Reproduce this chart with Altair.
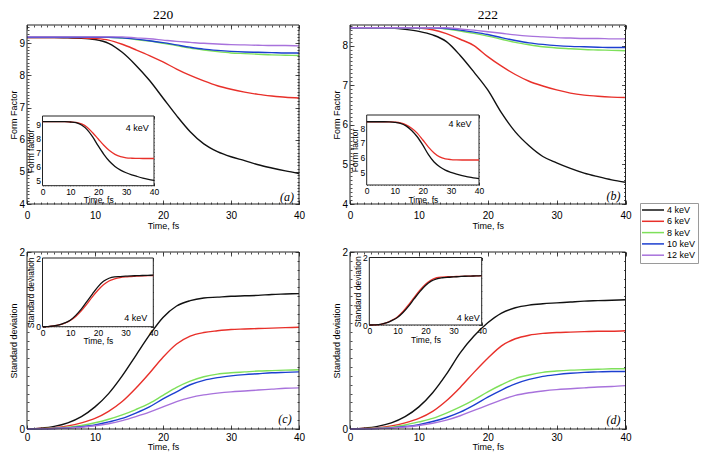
import altair as alt
import pandas as pd

# ---------------- data ----------------
T = [0, 2, 4, 6, 8, 10, 12, 14, 16, 18, 20, 22, 24, 26, 28, 30, 32, 34, 36, 38, 40]
ENERGIES = ["4 keV", "6 keV", "8 keV", "10 keV", "12 keV"]
COLORS = ["#111111", "#e8302a", "#7ee05a", "#1c3fd0", "#a872dc"]
INSET_COLORS = ["#e8302a", "#111111"]

# (a) 220 form factor
A4 = [9.18, 9.18, 9.18, 9.17, 9.16, 9.12, 9.00, 8.72, 8.32, 7.85, 7.30, 6.75, 6.25, 5.87, 5.63, 5.47, 5.35, 5.22, 5.12, 5.03, 4.95]
A6 = [9.18, 9.18, 9.18, 9.18, 9.17, 9.15, 9.10, 8.97, 8.80, 8.62, 8.42, 8.20, 8.00, 7.83, 7.68, 7.57, 7.48, 7.41, 7.36, 7.32, 7.30]
A8 = [9.19, 9.19, 9.19, 9.19, 9.19, 9.19, 9.19, 9.16, 9.12, 9.07, 9.00, 8.93, 8.85, 8.79, 8.74, 8.70, 8.68, 8.66, 8.64, 8.63, 8.62]
A10 = [9.19, 9.19, 9.19, 9.19, 9.19, 9.19, 9.19, 9.17, 9.13, 9.08, 9.02, 8.95, 8.88, 8.82, 8.78, 8.75, 8.73, 8.72, 8.71, 8.70, 8.70]
A12 = [9.20, 9.20, 9.20, 9.20, 9.20, 9.20, 9.20, 9.20, 9.17, 9.14, 9.10, 9.06, 9.03, 9.00, 8.98, 8.96, 8.95, 8.94, 8.93, 8.93, 8.92]
IA_RED = [9.20, 9.20, 9.20, 9.20, 9.20, 9.17, 9.14, 9.03, 8.80, 8.40, 7.95, 7.50, 7.12, 6.85, 6.68, 6.60, 6.57, 6.56, 6.55, 6.55, 6.55]
IA_BLACK = [9.20, 9.20, 9.20, 9.20, 9.20, 9.17, 9.12, 8.95, 8.62, 8.10, 7.45, 6.85, 6.35, 5.98, 5.72, 5.53, 5.38, 5.26, 5.15, 5.06, 4.98]

# (b) 222 form factor
B4 = [8.45, 8.45, 8.45, 8.44, 8.41, 8.36, 8.27, 8.10, 7.75, 7.33, 6.88, 6.30, 5.82, 5.47, 5.20, 5.04, 4.90, 4.78, 4.69, 4.61, 4.55]
B6 = [8.45, 8.45, 8.45, 8.45, 8.45, 8.44, 8.40, 8.30, 8.16, 8.00, 7.72, 7.48, 7.27, 7.10, 6.98, 6.88, 6.80, 6.75, 6.72, 6.70, 6.69]
B8 = [8.45, 8.45, 8.45, 8.45, 8.45, 8.45, 8.45, 8.42, 8.37, 8.31, 8.24, 8.16, 8.08, 8.02, 7.97, 7.94, 7.92, 7.90, 7.89, 7.88, 7.87]
B10 = [8.45, 8.45, 8.45, 8.45, 8.45, 8.45, 8.45, 8.43, 8.39, 8.34, 8.28, 8.20, 8.13, 8.07, 8.03, 8.00, 7.98, 7.97, 7.96, 7.95, 7.95]
B12 = [8.45, 8.45, 8.45, 8.45, 8.45, 8.45, 8.45, 8.45, 8.42, 8.39, 8.35, 8.31, 8.27, 8.24, 8.22, 8.20, 8.19, 8.18, 8.18, 8.17, 8.17]
IB_RED = [8.44, 8.44, 8.44, 8.44, 8.43, 8.41, 8.36, 8.23, 8.00, 7.67, 7.20, 6.72, 6.32, 6.05, 5.92, 5.87, 5.85, 5.84, 5.84, 5.84, 5.84]
IB_BLACK = [8.44, 8.44, 8.44, 8.44, 8.43, 8.40, 8.33, 8.16, 7.85, 7.42, 6.85, 6.20, 5.70, 5.38, 5.15, 5.00, 4.88, 4.78, 4.70, 4.63, 4.58]

# (c) 220 standard deviation
C4 = [0.0, 0.01, 0.03, 0.07, 0.14, 0.25, 0.40, 0.60, 0.83, 1.06, 1.26, 1.39, 1.45, 1.48, 1.49, 1.50, 1.505, 1.51, 1.52, 1.525, 1.53]
C6 = [0.0, 0.005, 0.015, 0.035, 0.07, 0.12, 0.20, 0.31, 0.46, 0.63, 0.81, 0.96, 1.05, 1.09, 1.11, 1.125, 1.13, 1.135, 1.14, 1.145, 1.15]
C8 = [0.0, 0.003, 0.01, 0.02, 0.04, 0.07, 0.11, 0.16, 0.22, 0.29, 0.38, 0.47, 0.54, 0.59, 0.62, 0.635, 0.645, 0.655, 0.66, 0.665, 0.67]
C10 = [0.0, 0.002, 0.006, 0.013, 0.025, 0.045, 0.08, 0.12, 0.18, 0.25, 0.34, 0.42, 0.50, 0.55, 0.58, 0.60, 0.615, 0.625, 0.635, 0.64, 0.645]
C12 = [0.0, 0.002, 0.005, 0.011, 0.02, 0.036, 0.06, 0.095, 0.14, 0.19, 0.25, 0.31, 0.355, 0.385, 0.405, 0.42, 0.43, 0.44, 0.45, 0.46, 0.465]
IC_RED = [0.0, 0.005, 0.02, 0.05, 0.10, 0.18, 0.30, 0.46, 0.66, 0.87, 1.06, 1.22, 1.33, 1.39, 1.43, 1.45, 1.46, 1.47, 1.48, 1.485, 1.49]
IC_BLACK = [0.0, 0.005, 0.02, 0.05, 0.11, 0.19, 0.33, 0.51, 0.73, 0.95, 1.16, 1.32, 1.41, 1.45, 1.46, 1.47, 1.48, 1.485, 1.49, 1.495, 1.50]

# (d) 222 standard deviation
D4 = [0.0, 0.01, 0.03, 0.07, 0.14, 0.25, 0.41, 0.62, 0.86, 1.05, 1.20, 1.31, 1.37, 1.40, 1.415, 1.425, 1.435, 1.445, 1.45, 1.455, 1.46]
D6 = [0.0, 0.005, 0.015, 0.035, 0.07, 0.12, 0.20, 0.32, 0.47, 0.64, 0.80, 0.94, 1.02, 1.06, 1.08, 1.09, 1.095, 1.10, 1.105, 1.105, 1.11]
D8 = [0.0, 0.003, 0.01, 0.02, 0.045, 0.08, 0.12, 0.18, 0.25, 0.33, 0.42, 0.50, 0.57, 0.61, 0.64, 0.655, 0.665, 0.67, 0.675, 0.68, 0.68]
D10 = [0.0, 0.002, 0.006, 0.013, 0.028, 0.05, 0.085, 0.13, 0.19, 0.27, 0.36, 0.44, 0.51, 0.56, 0.595, 0.615, 0.63, 0.64, 0.645, 0.65, 0.65]
D12 = [0.0, 0.002, 0.005, 0.011, 0.022, 0.04, 0.065, 0.10, 0.15, 0.21, 0.27, 0.33, 0.38, 0.41, 0.43, 0.445, 0.455, 0.465, 0.475, 0.48, 0.49]
ID_RED = [0.0, 0.005, 0.02, 0.065, 0.14, 0.24, 0.40, 0.60, 0.82, 1.03, 1.21, 1.33, 1.40, 1.42, 1.43, 1.435, 1.44, 1.445, 1.45, 1.455, 1.46]
ID_BLACK = [0.0, 0.005, 0.02, 0.06, 0.13, 0.22, 0.37, 0.56, 0.78, 0.99, 1.17, 1.30, 1.37, 1.40, 1.415, 1.425, 1.435, 1.445, 1.45, 1.455, 1.46]

X_MAJOR = [0, 10, 20, 30, 40]
X_MINOR = list(range(0, 41))
YA_MAJOR = [4, 5, 6, 7, 8, 9]
YIA_MAJOR = [5, 6, 7, 8, 9]
YB_MAJOR = [4, 5, 6, 7, 8]
YIB_MAJOR = [5, 6, 7, 8]
YS_MAJOR = [0, 1, 2]

# ---------------- layout ----------------
W, H = 692, 449
FONT = "Liberation Sans"
SERIF = "Liberation Serif"
FRAME = "#222222"
ONE = pd.DataFrame({"k": [0]})

PA = dict(xd=[0, 40], yd=[4, 9.57], xr=[19, 291], yr=[196, 17])
PB = dict(xd=[0, 40], yd=[4, 8.52], xr=[342, 617.5], yr=[196, 17])
PC = dict(xd=[0, 40], yd=[0, 2], xr=[19, 291], yr=[421, 244])
PD = dict(xd=[0, 40], yd=[0, 2], xr=[342, 617.5], yr=[421, 244])
IA = dict(xd=[0, 40], yd=[4.6, 9.6], xr=[34.5, 146], yr=[177.7, 108])
IB = dict(xd=[0, 40], yd=[4.14, 8.9], xr=[358.7, 471], yr=[177, 107])
IC = dict(xd=[0, 40], yd=[0, 2], xr=[34.5, 145.3], yr=[318.7, 250])
ID = dict(xd=[0, 40], yd=[0, 2], xr=[361.3, 473.7], yr=[317, 249.5])


def sx(p):
    return alt.Scale(domain=p["xd"], range=p["xr"], nice=False, zero=False)


def sy(p):
    return alt.Scale(domain=p["yd"], range=p["yr"], nice=False, zero=False)


def tick_axis(orient, values, L, pos):
    if orient == "bottom":
        off = pos - H - L
    elif orient == "top":
        off = -(pos + L)
    elif orient == "left":
        off = -(pos + L)
    else:
        off = pos - L - W
    return alt.Axis(orient=orient, values=values, tickSize=L, offset=off, domain=False,
                    labels=False, grid=False, title="", ticks=True, tickColor=FRAME,
                    tickWidth=0.8)


def label_axes(p, L, xvals, yvals, ytitle, fs, tfs, xlp, xtp, ylp, ytp):
    xb = p["yr"][0]
    yl = p["xr"][0]
    common = dict(domain=False, grid=False, labelFontSize=fs, titleFontSize=tfs,
                  labelFlush=False, labelOverlap=False, tickColor=FRAME, tickWidth=0.8,
                  labelColor="#000000", titleColor="#000000", labelFont=FONT,
                  titleFont=FONT, titleFontWeight="normal", tickSize=L, format="d")
    xax = alt.Axis(orient="bottom", values=xvals, offset=xb - H - L, title="Time, fs",
                   labelPadding=xlp, titlePadding=xtp, **common)
    yax = alt.Axis(orient="left", values=yvals, offset=-(yl + L), title=ytitle,
                   labelPadding=ylp, titlePadding=ytp, **common)
    return xax, yax


def frame_layers(p, big, xmajor, ymajor, yminor, fill):
    L, l = (4, 2) if big else (3, 1.5)
    x0, x1 = p["xr"]
    yb, yt = p["yr"]

    def enc(xax, yax):
        return dict(
            x=alt.XDatum(p["xd"][0], type="quantitative", scale=sx(p), axis=xax),
            x2=alt.X2Datum(p["xd"][1]),
            y=alt.YDatum(p["yd"][0], type="quantitative", scale=sy(p), axis=yax),
            y2=alt.Y2Datum(p["yd"][1]),
        )

    if fill:
        box_mark = alt.Chart(ONE).mark_rect(fill="white", stroke=FRAME, strokeWidth=1)
    else:
        box_mark = alt.Chart(ONE).mark_rect(fillOpacity=0, stroke=FRAME, strokeWidth=1)
    box = box_mark.encode(**enc(tick_axis("top", xmajor, L, yt), tick_axis("right", ymajor, L, x1)))
    m1 = alt.Chart(ONE).mark_rect(opacity=0).encode(
        **enc(tick_axis("bottom", X_MINOR, l, yb), tick_axis("left", yminor, l, x0)))
    m2 = alt.Chart(ONE).mark_rect(opacity=0).encode(
        **enc(tick_axis("top", X_MINOR, l, yt), tick_axis("right", yminor, l, x1)))
    return [box, m1, m2]


def series_df(names, arrays, col):
    rows = []
    for n, a in zip(names, arrays):
        for t, v in zip(T, a):
            rows.append({"t": t, "v": v, col: n})
    return pd.DataFrame(rows)


LEG = alt.Legend(orient="none", legendX=632, legendY=195, title=None,
                 symbolType="M-2.75,0H2.75", symbolSize=64, symbolStrokeWidth=1.5,
                 symbolOffset=6, labelOffset=9, labelFontSize=9, labelFont=FONT,
                 padding=2, rowPadding=1.3, strokeColor="#9a9a9a", fillColor="white",
                 labelColor="#000000")


def main_lines(p, arrays, ytitle, yvals, xlp, xtp):
    df = series_df(ENERGIES, arrays, "E")
    xax, yax = label_axes(p, 4, X_MAJOR, yvals, ytitle, 10, 9, xlp, xtp, 2.5, 0)
    return alt.Chart(df).mark_line(strokeWidth=1.4, interpolate="monotone").encode(
        x=alt.X("t:Q", scale=sx(p), axis=xax),
        y=alt.Y("v:Q", scale=sy(p), axis=yax),
        color=alt.Color("E:N", scale=alt.Scale(domain=ENERGIES, range=COLORS), legend=LEG),
    )


def inset_lines(p, arrays, ytitle, yvals):
    df = series_df(INSET_COLORS, arrays, "c")
    xax, yax = label_axes(p, 3, X_MAJOR, yvals, ytitle, 8.5, 8.5, 1.5, 0, 2, 0)
    return alt.Chart(df).mark_line(strokeWidth=1.3, interpolate="monotone").encode(
        x=alt.X("t:Q", scale=sx(p), axis=xax),
        y=alt.Y("v:Q", scale=sy(p), axis=yax),
        stroke=alt.Stroke("c:N", scale=None),
    )


def text_layer(p, xv, yv, text, **kw):
    return alt.Chart(ONE).mark_text(text=text, **kw).encode(
        x=alt.XDatum(xv, type="quantitative", scale=sx(p), axis=None),
        y=alt.YDatum(yv, type="quantitative", scale=sy(p), axis=None),
    )


layers = []
# panel (a)
layers.append(main_lines(PA, [A4, A6, A8, A10, A12], "Form Factor", YA_MAJOR, 6, 1))
layers += frame_layers(PA, True, X_MAJOR, YA_MAJOR, [round(4 + 0.1 * i, 1) for i in range(56)], False)
layers += frame_layers(IA, False, X_MAJOR, YIA_MAJOR, [4.75 + 0.25 * i for i in range(20)], True)
layers.append(inset_lines(IA, [IA_RED, IA_BLACK], "Form factor", YIA_MAJOR))
# panel (b)
layers.append(main_lines(PB, [B4, B6, B8, B10, B12], "Form Factor", YB_MAJOR, 6, 1))
layers += frame_layers(PB, True, X_MAJOR, YB_MAJOR, [round(4 + 0.1 * i, 1) for i in range(46)], False)
layers += frame_layers(IB, False, X_MAJOR, YIB_MAJOR, [4.25 + 0.25 * i for i in range(19)], True)
layers.append(inset_lines(IB, [IB_RED, IB_BLACK], "Form factor", YIB_MAJOR))
# panel (c)
layers.append(main_lines(PC, [C4, C6, C8, C10, C12], "Standard deviation", YS_MAJOR, 3, 0))
layers += frame_layers(PC, True, X_MAJOR, YS_MAJOR, [round(0.1 * i, 1) for i in range(21)], False)
layers += frame_layers(IC, False, X_MAJOR, YS_MAJOR, [round(0.2 * i, 1) for i in range(11)], True)
layers.append(inset_lines(IC, [IC_RED, IC_BLACK], "Standard deviation", YS_MAJOR))
# panel (d)
layers.append(main_lines(PD, [D4, D6, D8, D10, D12], "Standard deviation", YS_MAJOR, 3, 0))
layers += frame_layers(PD, True, X_MAJOR, YS_MAJOR, [round(0.1 * i, 1) for i in range(21)], False)
layers += frame_layers(ID, False, X_MAJOR, YS_MAJOR, [round(0.2 * i, 1) for i in range(11)], True)
layers.append(inset_lines(ID, [ID_RED, ID_BLACK], "Standard deviation", YS_MAJOR))

# texts
tkw = dict(font=SERIF, fontSize=13.5, align="center", baseline="alphabetic", dy=-6, color="#000000")
layers.append(text_layer(PA, 20, PA["yd"][1], "220", **tkw))
layers.append(text_layer(PB, 20, PB["yd"][1], "222", **tkw))
lkw = dict(font=SERIF, fontSize=12, fontStyle="italic", align="center", baseline="middle", color="#000000")
layers.append(text_layer(PA, 40, PA["yd"][0], "(a)", dx=-12, dy=-7, **lkw))
layers.append(text_layer(PB, 40, PB["yd"][0], "(b)", dx=-12, dy=-8, **lkw))
layers.append(text_layer(PC, 40, PC["yd"][0], "(c)", dx=-14, dy=-10, **lkw))
layers.append(text_layer(PD, 40, PD["yd"][0], "(d)", dx=-12, dy=-9, **lkw))
kkw = dict(font=FONT, fontSize=9, align="center", baseline="middle", color="#000000")
layers.append(text_layer(IA, 34, 8.76, "4 keV", **kkw))
layers.append(text_layer(IB, 33.2, 8.31, "4 keV", **kkw))
layers.append(text_layer(IC, 33.7, 0.24, "4 keV", **kkw))
layers.append(text_layer(ID, 35.2, 0.2, "4 keV", **kkw))

chart = (
    alt.layer(*layers)
    .resolve_scale(x="independent", y="independent")
    .properties(width=W, height=H, padding=0, autosize=alt.AutoSizeParams(type="none"),
                background="white")
    .configure_view(stroke=None)
)

chart.save("out.html", embed_options={"renderer": "svg", "actions": False})
